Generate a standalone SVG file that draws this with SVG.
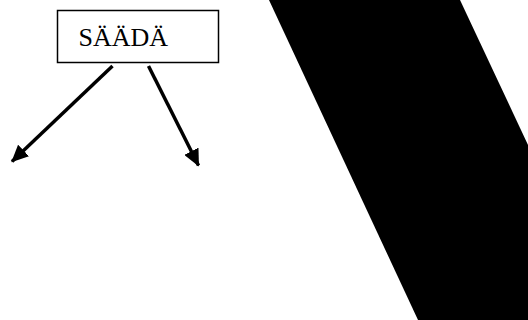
<svg xmlns="http://www.w3.org/2000/svg" width="528" height="320" viewBox="0 0 528 320">
<style>
.conn{stroke:#000;stroke-width:3.5;fill:none;marker-end:url(#ah)}
.box{fill:#fff;stroke:#000;stroke-width:1.5}
.lbl{font-family:"Liberation Serif",serif;font-size:26px;fill:#000}
</style>
<defs>
<marker id="ah" markerUnits="userSpaceOnUse" markerWidth="18" markerHeight="16" refX="16" refY="8" orient="auto">
<path d="M0,0 L17,8 L0,16 Z" fill="#000"/>
</marker>
</defs>
<rect width="528" height="320" fill="#fff"/>
<polygon points="269,0 460,0 528,145 528,320 418,320" fill="#000"/>
<g id="saada">
<rect class="box" x="57.5" y="10.5" width="161" height="52"/>
<text class="lbl" x="78.5" y="46">SÄÄDÄ</text>
</g>
<g id="connectors">
<line class="conn" x1="112.5" y1="66" x2="12" y2="161.5"/>
<line class="conn" x1="148.5" y1="66" x2="198.5" y2="165.5"/>
</g>
</svg>
